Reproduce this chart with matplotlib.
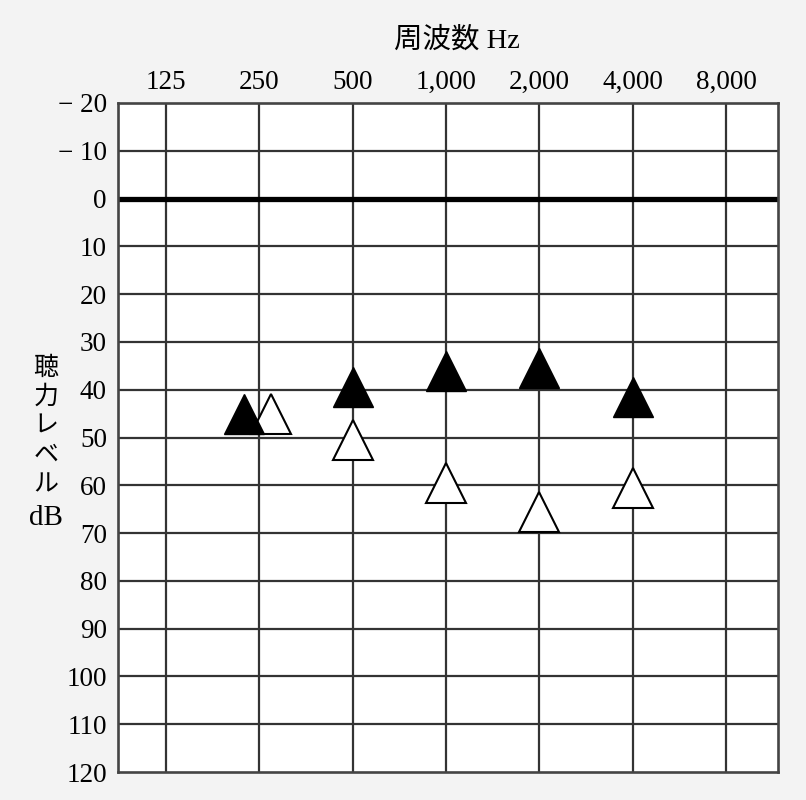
import matplotlib
matplotlib.use("Agg")
import matplotlib.pyplot as plt

# ---- data ----
freq_labels = ["125", "250", "500", "1,000", "2,000", "4,000", "8,000"]
db_ticks = [-20, -10, 0, 10, 20, 30, 40, 50, 60, 70, 80, 90, 100, 110, 120]
db_tick_labels = ["− 20", "− 10", "0", "10", "20", "30", "40", "50", "60", "70",
                  "80", "90", "100", "110", "120"]
test_freqs = ["250", "500", "1,000", "2,000", "4,000"]
filled_db = [45, 39.5, 36, 35.5, 41.5]
open_db = [45, 50.5, 59.5, 65.5, 60.5]
x_title = "周波数 Hz"
y_title_chars = ["聴", "力", "レ", "ベ", "ル", "dB"]

FAM = ["Liberation Serif", "Noto Sans CJK JP", "DejaVu Sans"]
plt.rcParams["font.family"] = FAM

W, H = 806, 800
fig = plt.figure(figsize=(W / 100, H / 100), dpi=100, facecolor="#f3f3f3")
ax = fig.add_axes([118 / W, 1 - 772 / H, (778 - 118) / W, (772 - 103) / H])
ax.set_facecolor("white")

xpos = {f: i for i, f in enumerate(freq_labels)}
ax.set_xlim(-0.514, 6.557)
ax.set_ylim(120, -20)

grid_col = "#333333"
for i in range(len(freq_labels)):
    ax.axvline(i, color=grid_col, lw=1.6, zorder=1)
for d in db_ticks:
    if d == 0:
        ax.axhline(d, color="black", lw=3.8, zorder=2)
    elif d not in (-20, 120):
        ax.axhline(d, color=grid_col, lw=1.6, zorder=1)

for s in ax.spines.values():
    s.set_color("#444444")
    s.set_linewidth(1.9)

# small horizontal offsets where both symbols overlap at the same frequency
offset_filled = {"250": -0.16}
offset_open = {"250": 0.12}

xs_f = [xpos[f] + offset_filled.get(f, 0) for f in test_freqs]
xs_o = [xpos[f] + offset_open.get(f, 0) for f in test_freqs]
ax.plot(xs_o, open_db, linestyle="none", marker="^", ms=29.5, mfc="white",
        mec="black", mew=1.5, zorder=4, clip_on=False)
ax.plot(xs_f, filled_db, linestyle="none", marker="^", ms=29.5, mfc="black",
        mec="black", mew=1.0, zorder=5, clip_on=False)

ax.xaxis.tick_top()
ax.set_xticks(range(len(freq_labels)))
ax.set_xticklabels(freq_labels, fontsize=19.5, family=FAM)
ax.tick_params(axis="x", length=0, pad=6)
ax.set_yticks(db_ticks)
ax.set_yticklabels(db_tick_labels, fontsize=19.5, family=FAM)
ax.tick_params(axis="y", length=0, pad=8)

fig.text(457 / W, 1 - 40 / H, x_title, ha="center", va="center",
         fontsize=20.5, family=FAM)

y0 = 368
for k, ch in enumerate(y_title_chars):
    if ch == "dB":
        fig.text(46 / W, 1 - 518 / H, ch, ha="center", va="center",
                 fontsize=21, family=FAM)
    else:
        fig.text(46 / W, 1 - (y0 + k * 29) / H, ch, ha="center", va="center",
                 fontsize=18, family=["Noto Sans CJK JP", "Liberation Serif"])

fig.savefig("out.png", dpi=100, facecolor=fig.get_facecolor())
